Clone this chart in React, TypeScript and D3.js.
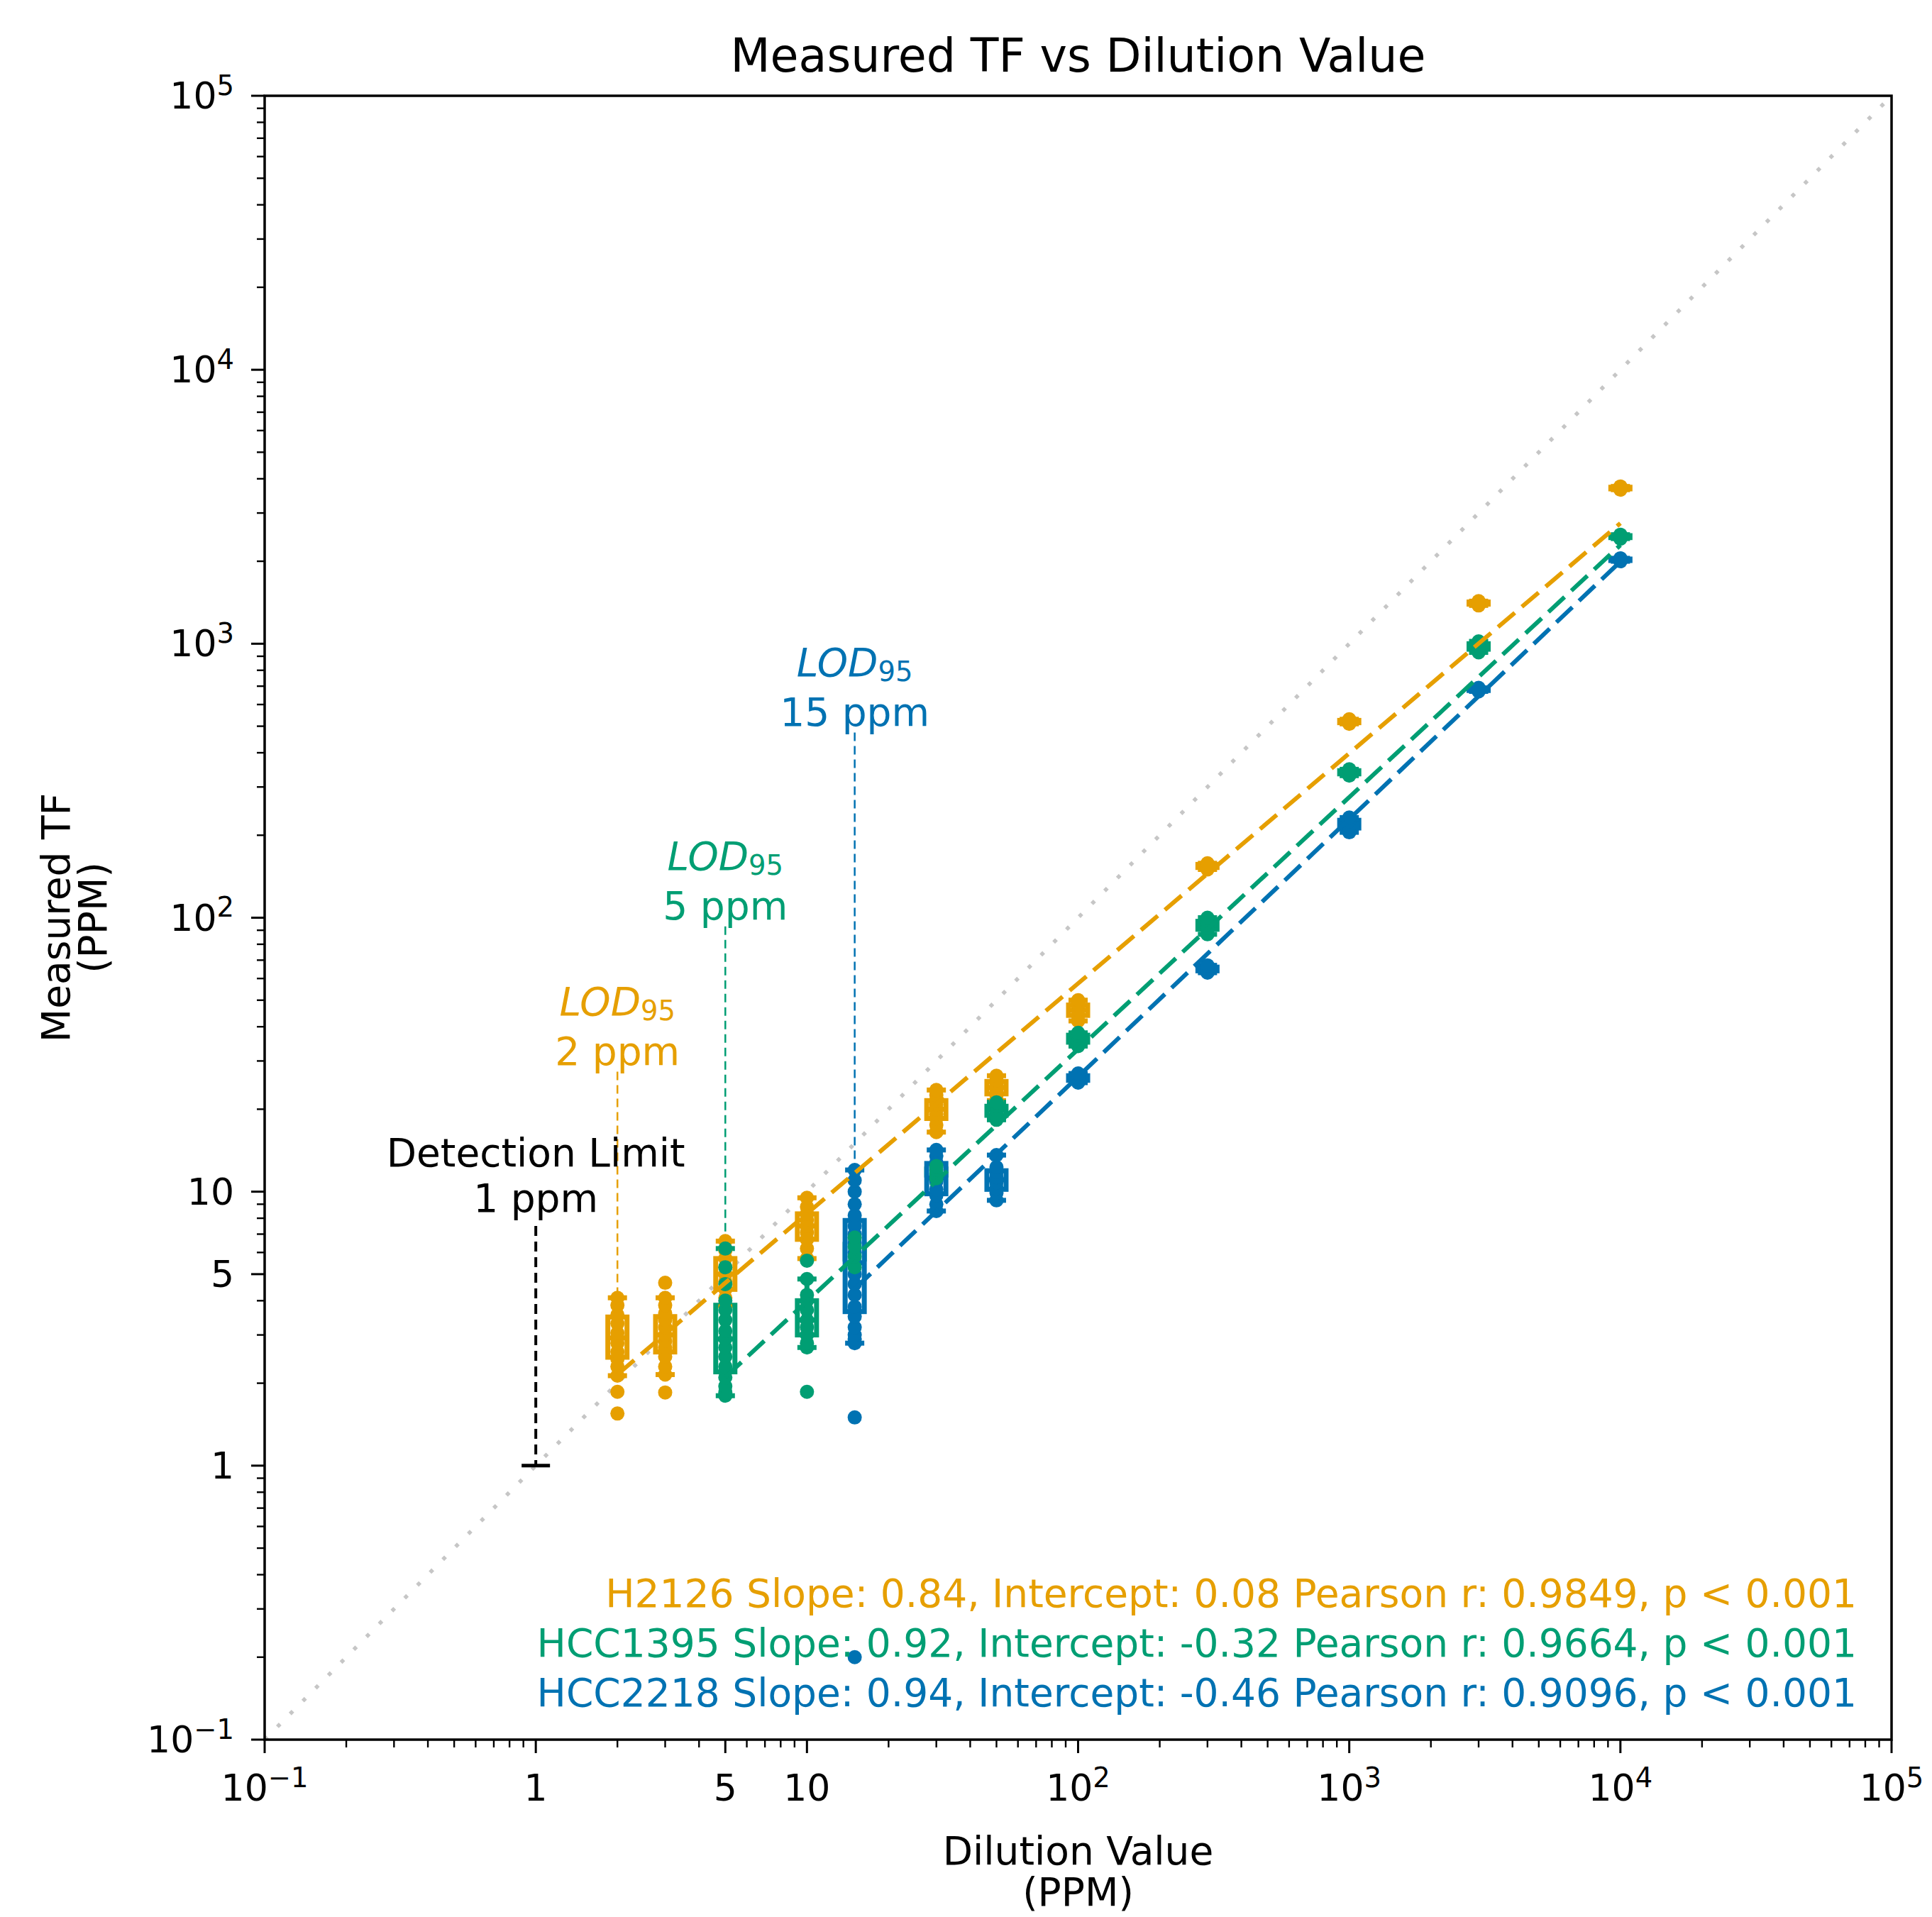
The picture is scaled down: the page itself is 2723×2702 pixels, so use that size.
import React from 'react';
import * as d3 from 'd3';

const W = 2723;
const H = 2702;

// ---------- data ----------
const seriesNames = ['H2126', 'HCC1395', 'HCC2218'];
const seriesColors = ['#E69F00', '#009E73', '#0072B2'];

const h2126Dilutions = [2, 3, 5, 10, 30, 50, 100, 300, 1000, 3000, 10000];
const h2126Values = [
  [2.13, 2.3, 2.45, 2.6, 2.8, 3.05, 3.3, 3.55, 3.85, 4.1],
  [2.15, 2.3, 2.5, 2.7, 2.85, 3.0, 3.2, 3.4, 3.6, 3.85, 4.1],
  [3.8, 4.1, 4.4, 4.7, 5.0, 5.3, 5.7, 6.1, 6.6],
  [5.7, 6.2, 6.7, 7.1, 7.5, 7.9, 8.3, 8.8, 9.5],
  [16.5, 17.5, 18.5, 19.2, 20, 20.8, 21.5, 22.5, 23.5],
  [21.5, 22.5, 23.5, 24.5, 25.5, 26.5],
  [42, 44, 46, 48, 50],
  [150, 155, 158],
  [510, 520, 530],
  [1380, 1410, 1430],
  [3650, 3700, 3750],
];
const h2126Fliers = [[1.55, 1.86], [1.85, 4.65], [], [], [], [], [], [], [], [], []];

const hcc1395Dilutions = [5, 10, 15, 30, 50, 100, 300, 1000, 3000, 10000];
const hcc1395Values = [
  [1.8, 1.85, 1.95, 2.1, 2.3, 2.5, 2.7, 2.9, 3.1, 3.4, 3.7, 4.0, 4.6, 5.3, 6.2],
  [2.7, 2.8, 3.0, 3.2, 3.4, 3.7, 4.0, 4.2, 4.8],
  [5.3, 5.8, 6.3, 6.8],
  [11.2, 11.6, 12.0, 12.4],
  [18.3, 19, 19.8, 20.5, 21.2],
  [34, 35.5, 37, 38],
  [87, 92, 96, 100],
  [330, 340, 348],
  [930, 980, 1020],
  [2420, 2500],
];
const hcc1395Fliers = [[], [1.86, 5.6], [], [], [], [], [], [], [], []];

const hcc2218Dilutions = [15, 30, 50, 100, 300, 1000, 3000, 10000];
const hcc2218Values = [
  [2.8, 2.9, 3.0, 3.2, 3.5, 3.8, 4.2, 4.6, 5.0, 5.5, 6.0, 6.5, 7.0, 7.5, 8.2, 9.0, 10.0, 11.0, 12.0],
  [8.5, 9.0, 9.7, 10.2, 10.9, 11.5, 12.3, 12.8, 13.5, 14.2],
  [9.3, 9.9, 10.3, 10.8, 11.3, 11.8, 12.3, 13.6],
  [25, 26, 27],
  [63, 65, 67],
  [205, 215, 225, 232],
  [670, 690],
  [2000, 2050],
];
const hcc2218Fliers = [[0.2, 1.5], [], [], [], [], [], [], []];

const fitSlopes = [0.84, 0.92, 0.94];
const fitIntercepts = [0.08, -0.32, -0.46];
const fitPearson = ['0.9849', '0.9664', '0.9096'];

const lodSeries = [0, 1, 2];
const lodX = [2, 5, 15];
const lodTopY = [27.4, 93, 474];
const lodBottomY = [4.0, 6.4, 12];
const lodLabels = ['2 ppm', '5 ppm', '15 ppm'];

const detectionX = 1;
const detectionTopY = 7.5;
const detectionBottomY = 1;

const majorTicks = [0.1, 1, 5, 10, 100, 1000, 10000, 100000];
const majorLabels: [string, string][] = [
  ['10', '\u22121'], ['1', ''], ['5', ''], ['10', ''], ['10', '2'], ['10', '3'], ['10', '4'], ['10', '5'],
];

// ---------- layout ----------
const L = 373, R = 2666, T = 135, B = 2452;
const FONT = 'DejaVu Sans, Verdana, sans-serif';

const x = d3.scaleLog().domain([0.1, 1e5]).range([L, R]);
const y = d3.scaleLog().domain([0.1, 1e5]).range([B, T]);

const minorTicks: number[] = [];
for (let k = -1; k < 5; k++) {
  for (let m = 2; m <= 9; m++) {
    if (m === 5 && k === 0) continue;
    minorTicks.push(m * Math.pow(10, k));
  }
}

function boxStats(vals: number[]) {
  const s = vals.slice().sort(d3.ascending);
  return {
    q1: d3.quantile(s, 0.25)!,
    med: d3.quantile(s, 0.5)!,
    q3: d3.quantile(s, 0.75)!,
    lo: d3.min(s)!,
    hi: d3.max(s)!,
  };
}

const allSeries = [
  { dil: h2126Dilutions, vals: h2126Values, fl: h2126Fliers },
  { dil: hcc1395Dilutions, vals: hcc1395Values, fl: hcc1395Fliers },
  { dil: hcc2218Dilutions, vals: hcc2218Values, fl: hcc2218Fliers },
];

const dotOrder = [0, 2, 1];

const BW = 27;
const LINE = d3.line<[number, number]>().x((d) => x(d[0])).y((d) => y(d[1]));

function Boxes() {
  return (
    <g>
      {allSeries.map((s, si) =>
        s.dil.map((dv, gi) => {
          const st = boxStats(s.vals[gi]);
          const cx = x(dv);
          const c = seriesColors[si];
          return (
            <g key={`b${si}-${gi}`} stroke={c} strokeWidth={7} fill="none">
              <line x1={cx} x2={cx} y1={y(st.q3)} y2={y(st.hi)} />
              <line x1={cx} x2={cx} y1={y(st.q1)} y2={y(st.lo)} />
              <line x1={cx - BW / 2} x2={cx + BW / 2} y1={y(st.hi)} y2={y(st.hi)} />
              <line x1={cx - BW / 2} x2={cx + BW / 2} y1={y(st.lo)} y2={y(st.lo)} />
              <rect x={cx - BW / 2} width={BW} y={y(st.q3)} height={Math.max(0.5, y(st.q1) - y(st.q3))} fill="#ffffff" />
              <line x1={cx - BW / 2} x2={cx + BW / 2} y1={y(st.med)} y2={y(st.med)} />
            </g>
          );
        })
      )}
    </g>
  );
}

function Dots() {
  return (
    <g>
      {dotOrder.map((si) => {
        const s = allSeries[si];
        return s.dil.map((dv, gi) =>
          s.vals[gi].concat(s.fl[gi]).map((v, vi) => (
            <circle key={`d${si}-${gi}-${vi}`} cx={x(dv)} cy={y(v)} r={10} fill={seriesColors[si]} />
          ))
        );
      })}
    </g>
  );
}

function Fits() {
  return (
    <g fill="none">
      {allSeries.map((s, si) => {
        const x0 = d3.min(s.dil)!;
        const x1 = d3.max(s.dil)!;
        const f = (xv: number) => Math.pow(10, fitSlopes[si] * Math.log10(xv) + fitIntercepts[si]);
        return (
          <path key={`f${si}`} d={LINE([[x0, f(x0)], [x1, f(x1)]])!} stroke={seriesColors[si]} strokeWidth={6} strokeDasharray="31 13" />
        );
      })}
    </g>
  );
}

function Sup({ base, exp }: { base: string; exp: string }) {
  return (
    <>
      <tspan>{base}</tspan>
      {exp ? (
        <tspan dy="-0.5em" fontSize="0.74em">
          {exp}
        </tspan>
      ) : null}
    </>
  );
}

function Axes() {
  const tickFs = 52;
  return (
    <g>
      {minorTicks.map((t) => (
        <line key={`xm${t}`} x1={x(t)} x2={x(t)} y1={B} y2={B + 11} stroke="#000" strokeWidth={2.4} />
      ))}
      {majorTicks.map((t) => (
        <line key={`xM${t}`} x1={x(t)} x2={x(t)} y1={B} y2={B + 19} stroke="#000" strokeWidth={3} />
      ))}
      {majorTicks.map((t, i) => (
        <text key={`xl${t}`} x={x(t)} y={2538} textAnchor="middle" fontSize={tickFs} fontFamily={FONT} fill="#000">
          <Sup base={majorLabels[i][0]} exp={majorLabels[i][1]} />
        </text>
      ))}
      {minorTicks.map((t) => (
        <line key={`ym${t}`} x1={L} x2={L - 11} y1={y(t)} y2={y(t)} stroke="#000" strokeWidth={2.4} />
      ))}
      {majorTicks.map((t) => (
        <line key={`yM${t}`} x1={L} x2={L - 19} y1={y(t)} y2={y(t)} stroke="#000" strokeWidth={3} />
      ))}
      {majorTicks.map((t, i) => (
        <text key={`yl${t}`} x={330} y={y(t) + 18} textAnchor="end" fontSize={tickFs} fontFamily={FONT} fill="#000">
          <Sup base={majorLabels[i][0]} exp={majorLabels[i][1]} />
        </text>
      ))}
      <rect x={L} y={T} width={R - L} height={B - T} fill="none" stroke="#000" strokeWidth={3.5} />
    </g>
  );
}

export default function App() {
  const fs = 55;
  return (
    <svg width={W} height={H} style={{ position: 'absolute', left: 0, top: 0, background: '#fff' }} xmlns="http://www.w3.org/2000/svg">
      <rect x={0} y={0} width={W} height={H} fill="#fff" />
      <path d={LINE([[0.1, 0.1], [1e5, 1e5]])!} stroke="#c6c6c6" strokeWidth={5.5} strokeDasharray="5.5 20" fill="none" />

      {lodSeries.map((si, i) => (
        <line key={`lod${i}`} x1={x(lodX[i])} x2={x(lodX[i])} y1={y(lodTopY[i])} y2={y(lodBottomY[i])} stroke={seriesColors[si]} strokeWidth={2.5} strokeDasharray="12 7" />
      ))}

      <Boxes />
      <Dots />
      <Fits />

      <line x1={x(detectionX)} x2={x(detectionX)} y1={y(detectionTopY)} y2={y(detectionBottomY)} stroke="#000" strokeWidth={4} strokeDasharray="14 8" />
      <line x1={x(detectionX) - 20} x2={x(detectionX) + 20} y1={y(detectionBottomY)} y2={y(detectionBottomY)} stroke="#000" strokeWidth={5} />
      <text x={x(detectionX)} y={y(detectionTopY) - 84} textAnchor="middle" fontSize={fs} fontFamily={FONT} fill="#000">Detection Limit</text>
      <text x={x(detectionX)} y={y(detectionTopY) - 20} textAnchor="middle" fontSize={fs} fontFamily={FONT} fill="#000">1 ppm</text>

      {lodSeries.map((si, i) => (
        <g key={`lodt${i}`} fontFamily={FONT} fontSize={fs} fill={seriesColors[si]} textAnchor="middle">
          <text x={x(lodX[i])} y={y(lodTopY[i]) - 80}>
            <tspan fontStyle="italic">LOD</tspan>
            <tspan fontSize="0.7em" dy="0.2em">95</tspan>
          </text>
          <text x={x(lodX[i])} y={y(lodTopY[i]) - 10}>{lodLabels[i]}</text>
        </g>
      ))}

      {seriesNames.map((n, i) => (
        <text key={`st${i}`} x={2617} y={2265 + i * 70} textAnchor="end" fontSize={fs} fontFamily={FONT} fill={seriesColors[i]}>
          {`${n} Slope: ${fitSlopes[i].toFixed(2)}, Intercept: ${fitIntercepts[i].toFixed(2)} Pearson r: ${fitPearson[i]}, p < 0.001`}
        </text>
      ))}

      <Axes />

      <text x={(L + R) / 2} y={101} textAnchor="middle" fontSize={65} fontFamily={FONT} fill="#000">Measured TF vs Dilution Value</text>
      <text x={(L + R) / 2} y={2628} textAnchor="middle" fontSize={fs} fontFamily={FONT} fill="#000">Dilution Value</text>
      <text x={(L + R) / 2} y={2686} textAnchor="middle" fontSize={fs} fontFamily={FONT} fill="#000">(PPM)</text>
      <g transform={`translate(98, ${(T + B) / 2}) rotate(-90)`}>
        <text x={0} y={0} textAnchor="middle" fontSize={fs} fontFamily={FONT} fill="#000">Measured TF</text>
      </g>
      <g transform={`translate(150, ${(T + B) / 2}) rotate(-90)`}>
        <text x={0} y={0} textAnchor="middle" fontSize={fs} fontFamily={FONT} fill="#000">(PPM)</text>
      </g>
    </svg>
  );
}
